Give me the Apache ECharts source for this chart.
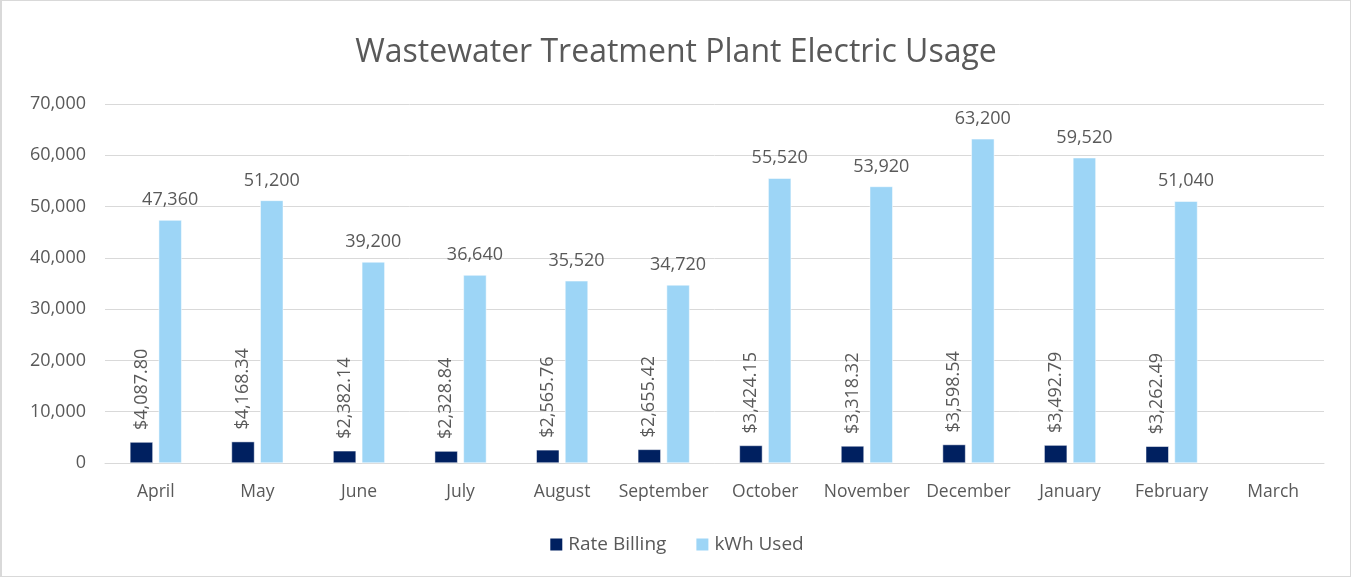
<!DOCTYPE html>
<html>
<head>
<meta charset="utf-8">
<script src="https://cdn.jsdelivr.net/npm/echarts@6/dist/echarts.min.js"></script>
<style>
  html, body { margin: 0; padding: 0; background: #fff; }
  #wrap { width: 1351px; height: 577px; box-sizing: border-box; border: 1px solid #d9d9d9; border-left: 2px solid #d9d9d9; }
  #chart { width: 100%; height: 100%; }
</style>
</head>
<body>
<div id="wrap"><div id="chart"></div></div>
<script>
  // months, fiscal year April -> March
  const months = ['April', 'May', 'June', 'July', 'August', 'September', 'October', 'November', 'December', 'January', 'February', 'March'];
  const rateBilling = [4087.80, 4168.34, 2382.14, 2328.84, 2565.76, 2655.42, 3424.15, 3318.32, 3598.54, 3492.79, 3262.49, null];
  const kwhUsed = [47360, 51200, 39200, 36640, 35520, 34720, 55520, 53920, 63200, 59520, 51040, null];
  const yTicks = [0, 10000, 20000, 30000, 40000, 50000, 60000, 70000];

  const font = '"Open Sans", "Liberation Sans", sans-serif';
  const grey = '#595959';
  const fmt = v => v.toLocaleString('en-US');
  const money = v => '$' + v.toLocaleString('en-US', { minimumFractionDigits: 2, maximumFractionDigits: 2 });

  const chart = echarts.init(document.getElementById('chart'));
  const option = {
    animation: false,
    textStyle: { fontFamily: font, color: grey },
    title: {
      text: 'Wastewater Treatment Plant Electric Usage',
      left: 'center',
      top: 31,
      textStyle: { fontFamily: font, fontSize: 32, fontWeight: 'normal', color: grey }
    },
    legend: {
      bottom: 17,
      left: 'center',
      itemWidth: 14,
      itemHeight: 14,
      itemGap: 28,
      icon: 'rect',
      textStyle: { fontFamily: font, fontSize: 19, color: grey }
    },
    grid: { left: 103, right: 26, top: 103, bottom: 113 },
    xAxis: {
      type: 'category',
      data: months,
      axisLine: { lineStyle: { color: '#d9d9d9', width: 1 } },
      axisTick: { show: false },
      axisLabel: { fontFamily: font, fontSize: 17.5, color: grey, margin: 20, interval: 0 }
    },
    yAxis: {
      type: 'value',
      min: yTicks[0],
      max: yTicks[yTicks.length - 1],
      interval: 10000,
      axisLine: { show: false },
      axisTick: { show: false },
      splitLine: { lineStyle: { color: '#d9d9d9', width: 1 } },
      axisLabel: { fontFamily: font, fontSize: 18, color: grey, margin: 19, formatter: v => fmt(v) }
    },
    series: [
      {
        name: 'Rate Billing',
        type: 'bar',
        data: rateBilling,
        barWidth: 23,
        barGap: '25%',
        itemStyle: { color: '#002060', borderColor: '#fff', borderWidth: 0.5 },
        label: {
          show: true,
          position: 'top',
          rotate: 90,
          align: 'left',
          verticalAlign: 'middle',
          distance: 12,
          fontFamily: font,
          fontSize: 18,
          color: grey,
          formatter: p => money(p.value)
        }
      },
      {
        name: 'kWh Used',
        type: 'bar',
        data: kwhUsed,
        barWidth: 23,
        itemStyle: { color: '#9dd5f6', borderColor: '#fff', borderWidth: 0.5 },
        label: {
          show: true,
          position: 'top',
          distance: 11,
          fontFamily: font,
          fontSize: 18,
          color: grey,
          formatter: p => fmt(p.value)
        }
      }
    ]
  };
  option && chart.setOption(option);
</script>
</body>
</html>
